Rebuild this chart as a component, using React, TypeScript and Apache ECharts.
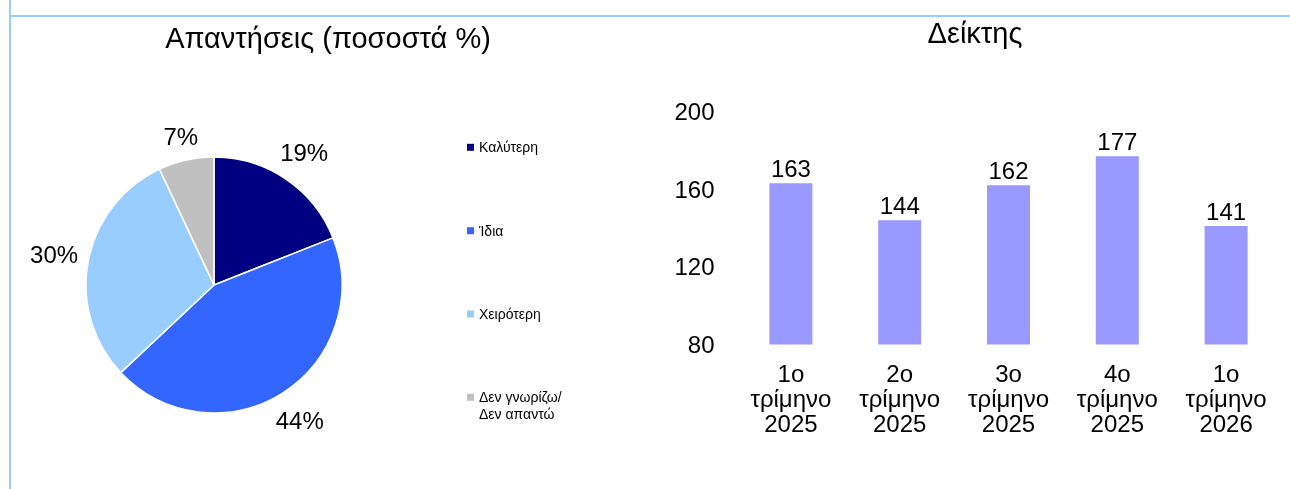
import React, { useEffect, useRef } from "react";
import * as echarts from "echarts";

const pieNames = ["Καλύτερη", "Ίδια", "Χειρότερη", "Δεν γνωρίζω/\nΔεν απαντώ"];
const pieValues = [19, 44, 30, 7];
const pieColors = ["#000080", "#3366FF", "#99CCFF", "#C0C0C0"];

const barCategories = [
  "1ο\nτρίμηνο\n2025",
  "2ο\nτρίμηνο\n2025",
  "3ο\nτρίμηνο\n2025",
  "4ο\nτρίμηνο\n2025",
  "1ο\nτρίμηνο\n2026",
];
const barValues = [163, 144, 162, 177, 141];

const FONT = "'Liberation Sans', Arial, sans-serif";
const PIE_CX = 214;
const PIE_CY = 285;
const PIE_R = 128;

const legendTops = [139.3, 222.7, 306, 388.8];

export default function App() {
  const ref = useRef<HTMLDivElement>(null);
  useEffect(() => {
    if (!ref.current) return;
    const chart = echarts.init(ref.current, undefined, { renderer: "svg" });
    const total = pieValues.reduce((a, b) => a + b, 0);
    const legends = pieNames.map((n, i) => ({
      data: [n],
      orient: "vertical",
      left: 467,
      top: legendTops[i],
      padding: 0,
      itemWidth: 7,
      itemHeight: i === 3 ? 24 : 7,
      icon: i === 3 ? "path://M0,0L7,0L7,7L0,7Z M0,24L7,24" : "rect",
      itemStyle: { borderWidth: 0 },
      selectedMode: false,
      textStyle: {
        fontFamily: FONT,
        fontSize: 14,
        lineHeight: i === 3 ? 17 : 16,
        color: "#000",
      },
    }));
    chart.setOption({
      animation: false,
      textStyle: { fontFamily: FONT },
      legend: legends,
      graphic: [
        { type: "line", shape: { x1: 10, y1: 0, x2: 10, y2: 489 }, style: { stroke: "#99CCFF", lineWidth: 2 } },
        { type: "line", shape: { x1: 10, y1: 16, x2: 1290, y2: 16 }, style: { stroke: "#99CCFF", lineWidth: 2 } },
        {
          type: "text",
          x: 328,
          y: 38,
          style: { text: "Απαντήσεις (ποσοστά %)", align: "center", verticalAlign: "middle", fontSize: 29, fontFamily: FONT, fill: "#000" },
        },
        {
          type: "text",
          x: 975,
          y: 32.5,
          style: { text: "Δείκτης", align: "center", verticalAlign: "middle", fontSize: 29, fontFamily: FONT, fill: "#000" },
        },
      ],
      grid: { left: 736.5, right: 9.5, top: 111.5, bottom: 144.5 },
      xAxis: {
        type: "category",
        data: barCategories,
        axisLine: { show: false },
        axisTick: { show: false },
        axisLabel: { fontSize: 24, lineHeight: 25, color: "#000", margin: 16, fontFamily: FONT },
      },
      yAxis: {
        type: "value",
        min: 80,
        max: 200,
        interval: 40,
        axisLine: { show: false },
        axisTick: { show: false },
        splitLine: { show: false },
        axisLabel: { fontSize: 24, color: "#000", margin: 22, fontFamily: FONT },
      },
      series: [
        {
          type: "pie",
          center: [PIE_CX, PIE_CY],
          radius: PIE_R,
          startAngle: 90,
          clockwise: true,
          avoidLabelOverlap: false,
          data: pieNames.map((n, i) => ({ name: n, value: pieValues[i], itemStyle: { color: pieColors[i] } })),
          itemStyle: { borderColor: "#fff", borderWidth: 1.5 },
          label: { show: true, position: "outside", formatter: "{c}%", fontSize: 24, color: "#000", fontFamily: FONT },
          labelLine: { show: false },
          labelLayout: (p: any) => {
            const i = p.dataIndex;
            let cum = 0;
            for (let k = 0; k < i; k++) cum += pieValues[k];
            const a = (2 * Math.PI * (cum + pieValues[i] / 2)) / total;
            const ux = Math.sin(a);
            const uy = -Math.cos(a);
            const w = p.labelRect.width;
            const h = p.labelRect.height;
            const ext = (Math.abs(ux) * w) / 2 + (Math.abs(uy) * h) / 2;
            const d = PIE_R + 9 + ext;
            return { x: PIE_CX + ux * d, y: PIE_CY + uy * d, align: "center", verticalAlign: "middle" };
          },
        },
        {
          type: "bar",
          data: barValues,
          barWidth: 43,
          itemStyle: { color: "#9999FF" },
          label: { show: true, position: "top", distance: 3, fontSize: 24, color: "#000", fontFamily: FONT },
        },
      ],
    });
    return () => chart.dispose();
  }, []);
  return <div ref={ref} style={{ position: "fixed", left: 0, top: 0, width: 1290, height: 489 }} />;
}
